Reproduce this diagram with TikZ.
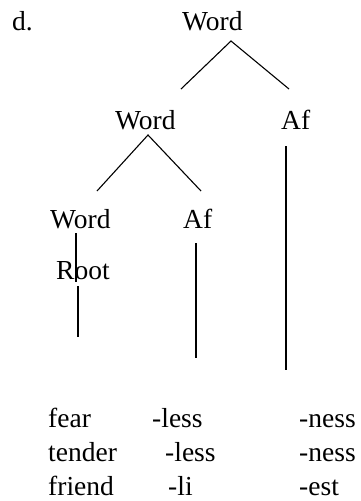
\documentclass[tikz,border=0pt]{standalone}
\usepackage{fontspec}
\setmainfont{Liberation Serif}
\usepackage{tikz}
\usetikzlibrary{calc}
\tikzset{lbl/.style={anchor=base west, inner sep=0pt, font=\fontsize{27.5}{33}\selectfont},
	branch/.style={line width=1.1pt}}

\begin{document}
\begin{tikzpicture}[x=1pt,y=-1pt]
			\useasboundingbox (0,0) rectangle (361,501);
			\node (d) [lbl] at (12,30){d.};
			\node (W0) [lbl] at (182,30){Word};
			\node (W1) [lbl] at (115,129){Word};
			\node (A1) [lbl] at (281,129){Af};
			\node (W2) [lbl] at (50,228){Word};
			\node (A2) [lbl] at (183,228){Af};
			\node (R) [lbl] at (56,279){Root};
			
			\node (fear) [lbl] at (48,427){fear};
			\node (less1) [lbl] at (152,427){-less};
			\node (ness1) [lbl] at (299,427){-ness};
			\node (tender) [lbl] at (48,461){tender};
			\node (less2) [lbl] at (165,461){-less};
			\node (ness2) [lbl] at (299,461){-ness};
			\node (friend) [lbl] at (48,495){friend};
			\node (li) [lbl] at (168,495){-li};
			\node (est) [lbl] at (299,495){-est};
			
			\coordinate (t0) at (231,41);
			\coordinate (l0) at (181,89);
			\coordinate (r0) at (289,89);
			\coordinate (t1) at (148,135);
			\coordinate (l1) at (97,191);
			\coordinate (r1) at (201,191);
			\coordinate (a1top) at (286,146);
			\coordinate (a1bot) at (286,370);
			\coordinate (wtop) at (76,233);
			\coordinate (wbot) at (76,282);
			\coordinate (rtop) at (78,286);
			\coordinate (rbot) at (78,337);
			\coordinate (a2top) at (196,243);
			\coordinate (a2bot) at (196,358);
			
			\draw[branch] (l0)--(t0)--(r0);
			\draw[branch] (l1)--(t1)--(r1);
			\draw[branch] (a1top)--(a1bot);
			\draw[branch] (wtop)--(wbot);
			\draw[branch] (rtop)--(rbot);
			\draw[branch] (a2top)--(a2bot);
		\end{tikzpicture}
\end{document}
